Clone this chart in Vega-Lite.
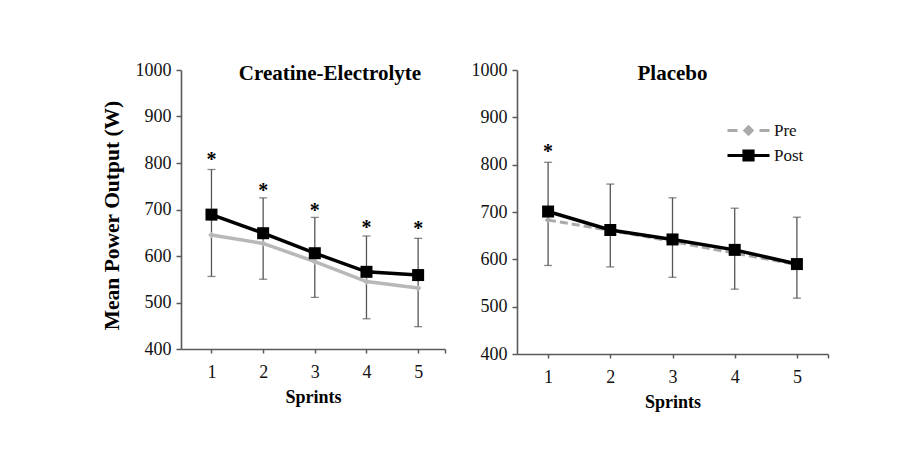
{
  "$schema": "https://vega.github.io/schema/vega-lite/v6.json",
  "background": "white",
  "padding": {"left": 101, "top": 61, "right": 5, "bottom": 5},
  "spacing": 25,
  "datasets": {
    "lines": [
      {"panel": "CE", "sprint": 1, "group": "Pre", "value": 645},
      {"panel": "CE", "sprint": 2, "group": "Pre", "value": 627},
      {"panel": "CE", "sprint": 3, "group": "Pre", "value": 588},
      {"panel": "CE", "sprint": 4, "group": "Pre", "value": 545},
      {"panel": "CE", "sprint": 5, "group": "Pre", "value": 531},
      {"panel": "CE", "sprint": 1, "group": "Post", "value": 689},
      {"panel": "CE", "sprint": 2, "group": "Post", "value": 649},
      {"panel": "CE", "sprint": 3, "group": "Post", "value": 606},
      {"panel": "CE", "sprint": 4, "group": "Post", "value": 566},
      {"panel": "CE", "sprint": 5, "group": "Post", "value": 559},
      {"panel": "PL", "sprint": 1, "group": "Pre", "value": 683},
      {"panel": "PL", "sprint": 2, "group": "Pre", "value": 661},
      {"panel": "PL", "sprint": 3, "group": "Pre", "value": 638},
      {"panel": "PL", "sprint": 4, "group": "Pre", "value": 613},
      {"panel": "PL", "sprint": 5, "group": "Pre", "value": 589},
      {"panel": "PL", "sprint": 1, "group": "Post", "value": 701},
      {"panel": "PL", "sprint": 2, "group": "Post", "value": 662},
      {"panel": "PL", "sprint": 3, "group": "Post", "value": 642},
      {"panel": "PL", "sprint": 4, "group": "Post", "value": 620},
      {"panel": "PL", "sprint": 5, "group": "Post", "value": 590}
    ],
    "errs": [
      {"panel": "CE", "sprint": 1, "low": 556, "high": 786},
      {"panel": "CE", "sprint": 2, "low": 550, "high": 725},
      {"panel": "CE", "sprint": 3, "low": 511, "high": 683},
      {"panel": "CE", "sprint": 4, "low": 465, "high": 643},
      {"panel": "CE", "sprint": 5, "low": 448, "high": 638},
      {"panel": "PL", "sprint": 1, "low": 587, "high": 805},
      {"panel": "PL", "sprint": 2, "low": 584, "high": 759},
      {"panel": "PL", "sprint": 3, "low": 562, "high": 730},
      {"panel": "PL", "sprint": 4, "low": 537, "high": 708},
      {"panel": "PL", "sprint": 5, "low": 518, "high": 689}
    ],
    "stars": [
      {"panel": "CE", "sprint": 1, "y": 814},
      {"panel": "CE", "sprint": 2, "y": 749},
      {"panel": "CE", "sprint": 3, "y": 706},
      {"panel": "CE", "sprint": 4, "y": 669},
      {"panel": "CE", "sprint": 5, "y": 667},
      {"panel": "PL", "sprint": 1, "y": 836}
    ]
  },
  "hconcat": [
    {
      "width": 264,
      "height": 279,
      "title": {"text": "Creatine-Electrolyte", "anchor": "middle", "frame": "group", "offset": -23, "dx": 17},
      "layer": [
        {
          "data": {"name": "errs"},
          "transform": [{"filter": "datum.panel == 'CE'"}],
          "mark": {"type": "rule", "color": "#555555", "strokeWidth": 1.3},
          "encoding": {
            "x": {"field": "sprint", "type": "quantitative", "scale": {"domain": [0.41, 5.52], "nice": false, "zero": false},
              "axis": {"values": [1, 2, 3, 4, 5, 5.52], "labelExpr": "datum.value > 5.1 ? '' : format(datum.value, 'd')", "title": "Sprints", "tickSize": 4, "labelPadding": 10, "titlePadding": 7}},
            "y": {"field": "low", "type": "quantitative", "scale": {"domain": [400, 1000], "nice": false, "zero": false},
              "axis": {"values": [400, 500, 600, 700, 800, 900, 1000], "format": "d", "title": "Mean Power Output (W)", "titleFontSize": 21.5, "titleY": 145, "tickSize": 5, "labelPadding": 5, "titlePadding": 12}},
            "y2": {"field": "high"}
          }
        },
        {
          "data": {"name": "errs"},
          "transform": [{"filter": "datum.panel == 'CE'"}],
          "mark": {"type": "tick", "orient": "horizontal", "color": "#555555", "size": 8, "thickness": 1.3},
          "encoding": {"x": {"field": "sprint", "type": "quantitative"}, "y": {"field": "low", "type": "quantitative"}}
        },
        {
          "data": {"name": "errs"},
          "transform": [{"filter": "datum.panel == 'CE'"}],
          "mark": {"type": "tick", "orient": "horizontal", "color": "#555555", "size": 8, "thickness": 1.3},
          "encoding": {"x": {"field": "sprint", "type": "quantitative"}, "y": {"field": "high", "type": "quantitative"}}
        },
        {
          "data": {"name": "lines"},
          "transform": [{"filter": "datum.panel == 'CE' && datum.group == 'Pre'"}],
          "mark": {"type": "line", "color": "#b8b8b8", "strokeWidth": 3.5},
          "encoding": {"x": {"field": "sprint", "type": "quantitative"}, "y": {"field": "value", "type": "quantitative"}}
        },
        {
          "data": {"name": "lines"},
          "transform": [{"filter": "datum.panel == 'CE' && datum.group == 'Pre'"}],
          "mark": {"type": "point", "shape": "diamond", "filled": true, "color": "#b8b8b8", "size": 45, "opacity": 1},
          "encoding": {"x": {"field": "sprint", "type": "quantitative"}, "y": {"field": "value", "type": "quantitative"}}
        },
        {
          "data": {"name": "lines"},
          "transform": [{"filter": "datum.panel == 'CE' && datum.group == 'Post'"}],
          "mark": {"type": "line", "color": "#000000", "strokeWidth": 3.5},
          "encoding": {"x": {"field": "sprint", "type": "quantitative"}, "y": {"field": "value", "type": "quantitative"}}
        },
        {
          "data": {"name": "lines"},
          "transform": [{"filter": "datum.panel == 'CE' && datum.group == 'Post'"}],
          "mark": {"type": "point", "shape": "square", "filled": true, "color": "#000000", "size": 144, "opacity": 1},
          "encoding": {"x": {"field": "sprint", "type": "quantitative"}, "y": {"field": "value", "type": "quantitative"}}
        },
        {
          "data": {"name": "stars"},
          "transform": [{"filter": "datum.panel == 'CE'"}],
          "mark": {"type": "text", "text": "*", "font": "Liberation Serif", "fontWeight": "bold", "fontSize": 20, "baseline": "alphabetic", "dy": 10, "color": "#000000"},
          "encoding": {"x": {"field": "sprint", "type": "quantitative"}, "y": {"field": "y", "type": "quantitative"}}
        }
      ]
    },
    {
      "width": 311,
      "height": 284,
      "title": {"text": "Placebo", "anchor": "middle", "frame": "group", "offset": -23},
      "layer": [
        {
          "data": {"name": "errs"},
          "transform": [{"filter": "datum.panel == 'PL'"}],
          "mark": {"type": "rule", "color": "#555555", "strokeWidth": 1.3},
          "encoding": {
            "x": {"field": "sprint", "type": "quantitative", "scale": {"domain": [0.5, 5.5], "nice": false, "zero": false},
              "axis": {"values": [1, 2, 3, 4, 5, 5.5], "labelExpr": "datum.value > 5.1 ? '' : format(datum.value, 'd')", "title": "Sprints", "tickSize": 4, "labelPadding": 10, "titlePadding": 7}},
            "y": {"field": "low", "type": "quantitative", "scale": {"domain": [400, 1000], "nice": false, "zero": false},
              "axis": {"values": [400, 500, 600, 700, 800, 900, 1000], "format": "d", "title": null, "tickSize": 5, "labelPadding": 5}},
            "y2": {"field": "high"}
          }
        },
        {
          "data": {"name": "errs"},
          "transform": [{"filter": "datum.panel == 'PL'"}],
          "mark": {"type": "tick", "orient": "horizontal", "color": "#555555", "size": 8, "thickness": 1.3},
          "encoding": {"x": {"field": "sprint", "type": "quantitative"}, "y": {"field": "low", "type": "quantitative"}}
        },
        {
          "data": {"name": "errs"},
          "transform": [{"filter": "datum.panel == 'PL'"}],
          "mark": {"type": "tick", "orient": "horizontal", "color": "#555555", "size": 8, "thickness": 1.3},
          "encoding": {"x": {"field": "sprint", "type": "quantitative"}, "y": {"field": "high", "type": "quantitative"}}
        },
        {
          "data": {"name": "lines"},
          "transform": [{"filter": "datum.panel == 'PL' && datum.group == 'Pre'"}],
          "mark": {"type": "line", "color": "#aaaaaa", "strokeWidth": 3, "strokeDash": [8, 4]},
          "encoding": {"x": {"field": "sprint", "type": "quantitative"}, "y": {"field": "value", "type": "quantitative"}}
        },
        {
          "data": {"name": "lines"},
          "transform": [{"filter": "datum.panel == 'PL' && datum.group == 'Pre'"}],
          "mark": {"type": "point", "shape": "diamond", "filled": true, "color": "#aaaaaa", "size": 45, "opacity": 1},
          "encoding": {"x": {"field": "sprint", "type": "quantitative"}, "y": {"field": "value", "type": "quantitative"}}
        },
        {
          "data": {"name": "lines"},
          "transform": [{"filter": "datum.panel == 'PL' && datum.group == 'Post'"}],
          "mark": {"type": "line", "color": "#000000", "strokeWidth": 3.5},
          "encoding": {"x": {"field": "sprint", "type": "quantitative"}, "y": {"field": "value", "type": "quantitative"}}
        },
        {
          "data": {"name": "lines"},
          "transform": [{"filter": "datum.panel == 'PL' && datum.group == 'Post'"}],
          "mark": {"type": "point", "shape": "square", "filled": true, "color": "#000000", "size": 144, "opacity": 1},
          "encoding": {"x": {"field": "sprint", "type": "quantitative"}, "y": {"field": "value", "type": "quantitative"}}
        },
        {
          "data": {"name": "stars"},
          "transform": [{"filter": "datum.panel == 'PL'"}],
          "mark": {"type": "text", "text": "*", "font": "Liberation Serif", "fontWeight": "bold", "fontSize": 20, "baseline": "alphabetic", "dy": 10, "color": "#000000"},
          "encoding": {"x": {"field": "sprint", "type": "quantitative"}, "y": {"field": "y", "type": "quantitative"}}
        },
        {
          "data": {"name": "lines"},
          "transform": [{"filter": "false"}],
          "mark": {"type": "point", "filled": true, "strokeWidth": 3, "opacity": 1},
          "encoding": {
            "x": {"field": "sprint", "type": "quantitative"},
            "y": {"field": "value", "type": "quantitative"},
            "shape": {"field": "group", "type": "nominal", "title": null,
              "scale": {"domain": ["Pre", "Post"], "range": ["M-2.1,0H-1.1M1.1,0H2.1M0,-0.36L0.36,0L0,0.36L-0.36,0Z", "M-2.1,0H2.1M-0.46,-0.46H0.46V0.46H-0.46Z"]},
              "legend": {"orient": "none", "legendX": 220, "legendY": 49, "symbolSize": 400, "rowPadding": 3, "labelOffset": 14, "symbolStrokeWidth": 3, "symbolOpacity": 1}},
            "fill": {"field": "group", "type": "nominal", "title": null, "scale": {"domain": ["Pre", "Post"], "range": ["#aaaaaa", "#000000"]}},
            "stroke": {"field": "group", "type": "nominal", "title": null, "scale": {"domain": ["Pre", "Post"], "range": ["#aaaaaa", "#000000"]}}
          }
        }
      ]
    }
  ],
  "resolve": {
    "scale": {"x": "independent", "y": "independent", "shape": "independent", "fill": "independent", "stroke": "independent"},
    "legend": {"shape": "independent", "fill": "independent", "stroke": "independent"}
  },
  "config": {
    "view": {"stroke": null},
    "font": "Liberation Serif",
    "title": {"font": "Liberation Serif", "fontSize": 21, "fontWeight": "bold", "color": "#000000"},
    "axis": {
      "grid": false,
      "domainColor": "#5a5a5a",
      "domainWidth": 1.6,
      "tickColor": "#5a5a5a",
      "tickWidth": 1.5,
      "labelFont": "Liberation Serif",
      "labelFontSize": 18,
      "labelColor": "#111111",
      "titleFont": "Liberation Serif",
      "titleFontSize": 18,
      "titleFontWeight": "bold",
      "titleColor": "#000000"
    },
    "legend": {"labelFont": "Liberation Serif", "labelFontSize": 17, "labelColor": "#111111"}
  }
}
